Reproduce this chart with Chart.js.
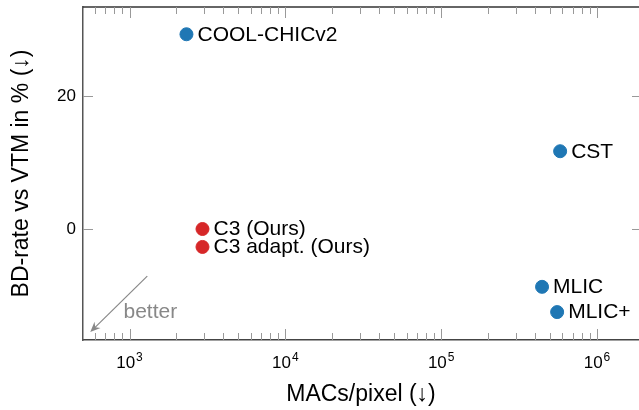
<!DOCTYPE html>
<html>
<head>
<meta charset="utf-8">
<script src="https://cdn.jsdelivr.net/npm/chart.js@4/dist/chart.umd.min.js"></script>
<style>
  html, body { margin: 0; padding: 0; background: #fff; }
  #wrap { width: 639px; height: 410px; }
</style>
</head>
<body>
<div id="wrap"><canvas id="grafico"></canvas></div>
<script>
// datos
const otrosNombres = ["COOL-CHICv2", "CST", "MLIC", "MLIC+"];
const otrosMacs = [2320, 580000, 444000, 555000];
const otrosBd = [29.3, 11.7, -8.7, -12.5];

const nuestrosNombres = ["C3 (Ours)", "C3 adapt. (Ours)"];
const nuestrosMacs = [2940, 2940];
const nuestrosBd = [0, -2.7];

const xTicks = [1e3, 1e4, 1e5, 1e6];
const xTickExp = ["3", "4", "5", "6"];
const yTicks = [0, 20];

// flecha "better" (en coordenadas de datos)
const flechaDesde = { x: 1300, y: -7.1 };
const flechaHasta = { x: 560, y: -15.5 };
const textoFlecha = { x: 915, y: -13.4, text: "better" };

const fuente = "'Liberation Sans', Arial, sans-serif";
const azul = "#1f77b4";
const rojo = "#d62728";

const toPts = (xs, ys) => xs.map((x, i) => ({ x: x, y: ys[i] }));
const sinPadding = (s) => {
  s.paddingLeft = 0;
  s.paddingRight = 0;
  s.paddingTop = 0;
  s.paddingBottom = 0;
};

// etiquetas junto a cada punto y etiquetas 10^n del eje x
const etiquetas = {
  id: "etiquetas",
  afterDatasetsDraw(chart) {
    const ctx = chart.ctx;
    ctx.save();
    ctx.font = "21px " + fuente;
    ctx.fillStyle = "#000";
    ctx.textBaseline = "middle";
    ctx.textAlign = "left";
    chart.data.datasets.forEach((ds, di) => {
      const meta = chart.getDatasetMeta(di);
      meta.data.forEach((pt, i) => {
        ctx.fillText(ds.nombres[i], pt.x + 11, pt.y + 0.5);
      });
    });

    const xs = chart.scales.x;
    const base = chart.chartArea.bottom + 28;
    ctx.textBaseline = "alphabetic";
    xTicks.forEach((v, i) => {
      const px = xs.getPixelForValue(v);
      ctx.font = "17px " + fuente;
      const w1 = ctx.measureText("10").width;
      ctx.font = "12px " + fuente;
      const w2 = ctx.measureText(xTickExp[i]).width;
      const x0 = px - (w1 + w2 + 1) / 2;
      ctx.font = "17px " + fuente;
      ctx.fillText("10", x0, base);
      ctx.font = "12px " + fuente;
      ctx.fillText(xTickExp[i], x0 + w1 + 1, base - 7);
    });
    ctx.restore();
  },
};

// marcas hacia adentro, borde superior y flecha
const marcas = {
  id: "marcas",
  beforeDatasetsDraw(chart) {
    const ctx = chart.ctx;
    const a = chart.chartArea;
    const xs = chart.scales.x;
    const ys = chart.scales.y;
    ctx.save();
    ctx.strokeStyle = "#333";
    ctx.lineWidth = 1.5;
    ctx.beginPath();
    ctx.moveTo(a.left, a.top);
    ctx.lineTo(a.right + 2, a.top);
    ctx.stroke();

    ctx.strokeStyle = "#999";
    ctx.lineWidth = 1;
    ctx.beginPath();
    for (let d = 2; d <= 6; d++) {
      for (let m = 1; m <= 9; m++) {
        const v = m * Math.pow(10, d);
        if (v < xs.min || v > xs.max) continue;
        const px = Math.round(xs.getPixelForValue(v)) + 0.5;
        const len = m === 1 ? 11 : 7;
        ctx.moveTo(px, a.bottom);
        ctx.lineTo(px, a.bottom - len);
        ctx.moveTo(px, a.top);
        ctx.lineTo(px, a.top + len);
      }
    }
    yTicks.forEach((v) => {
      const py = Math.round(ys.getPixelForValue(v)) + 0.5;
      ctx.moveTo(a.left, py);
      ctx.lineTo(a.left + 10, py);
      ctx.moveTo(a.right, py);
      ctx.lineTo(a.right - 7, py);
    });
    ctx.stroke();

    // flecha
    const x0 = xs.getPixelForValue(flechaDesde.x), y0 = ys.getPixelForValue(flechaDesde.y);
    const x1 = xs.getPixelForValue(flechaHasta.x), y1 = ys.getPixelForValue(flechaHasta.y);
    const ang = Math.atan2(y1 - y0, x1 - x0);
    ctx.strokeStyle = "#888";
    ctx.fillStyle = "#888";
    ctx.lineWidth = 1.2;
    ctx.beginPath();
    ctx.moveTo(x0, y0);
    ctx.lineTo(x1 - 6 * Math.cos(ang), y1 - 6 * Math.sin(ang));
    ctx.stroke();
    ctx.beginPath();
    ctx.moveTo(x1, y1);
    ctx.lineTo(x1 - 11 * Math.cos(ang - 0.4), y1 - 11 * Math.sin(ang - 0.4));
    ctx.lineTo(x1 - 7 * Math.cos(ang), y1 - 7 * Math.sin(ang));
    ctx.lineTo(x1 - 11 * Math.cos(ang + 0.4), y1 - 11 * Math.sin(ang + 0.4));
    ctx.closePath();
    ctx.fill();

    ctx.font = "21px " + fuente;
    ctx.textAlign = "left";
    ctx.textBaseline = "alphabetic";
    ctx.fillText(textoFlecha.text, xs.getPixelForValue(textoFlecha.x), ys.getPixelForValue(textoFlecha.y));
    ctx.restore();
  },
};

const ctx = document.getElementById("grafico");

new Chart(ctx, {
  type: "scatter",
  data: {
    datasets: [
      {
        label: "otros",
        data: toPts(otrosMacs, otrosBd),
        nombres: otrosNombres,
        backgroundColor: azul,
        borderColor: azul,
        pointRadius: 6.5,
        pointHoverRadius: 6.5,
      },
      {
        label: "nuestros",
        data: toPts(nuestrosMacs, nuestrosBd),
        nombres: nuestrosNombres,
        backgroundColor: rojo,
        borderColor: rojo,
        pointRadius: 6.5,
        pointHoverRadius: 6.5,
      },
    ],
  },
  options: {
    responsive: true,
    maintainAspectRatio: false,
    animation: false,
    events: [],
    layout: { autoPadding: false, padding: { top: 7, right: 0, left: 0, bottom: 0 } },
    plugins: { legend: { display: false }, tooltip: { enabled: false } },
    scales: {
      x: {
        type: "logarithmic",
        min: 503,
        max: 1.86e6,
        grid: { display: false, drawTicks: false },
        border: { display: true, color: "#444", width: 1.5 },
        afterBuildTicks: (s) => { s.ticks = xTicks.map((v) => ({ value: v })); },
        afterFit: (s) => { s.height = 70; sinPadding(s); },
        ticks: { display: false },
        title: {
          display: true,
          text: "MACs/pixel (\u2193)",
          color: "#000",
          font: { family: fuente, size: 23 },
          padding: { top: 0, bottom: 2 },
        },
      },
      y: {
        min: -16.7,
        max: 33.4,
        grid: { display: false, drawTicks: false },
        border: { display: true, color: "#555", width: 1.5 },
        afterBuildTicks: (s) => { s.ticks = yTicks.map((v) => ({ value: v })); },
        afterFit: (s) => { s.width = 83; sinPadding(s); },
        ticks: {
          padding: 7,
          color: "#000",
          font: { family: fuente, size: 17 },
        },
        title: {
          display: true,
          text: "BD-rate vs VTM in % (\u2193)",
          color: "#000",
          font: { family: fuente, size: 23 },
          padding: { top: 8, bottom: 0 },
        },
      },
    },
  },
  plugins: [marcas, etiquetas],
});
</script>
</body>
</html>
